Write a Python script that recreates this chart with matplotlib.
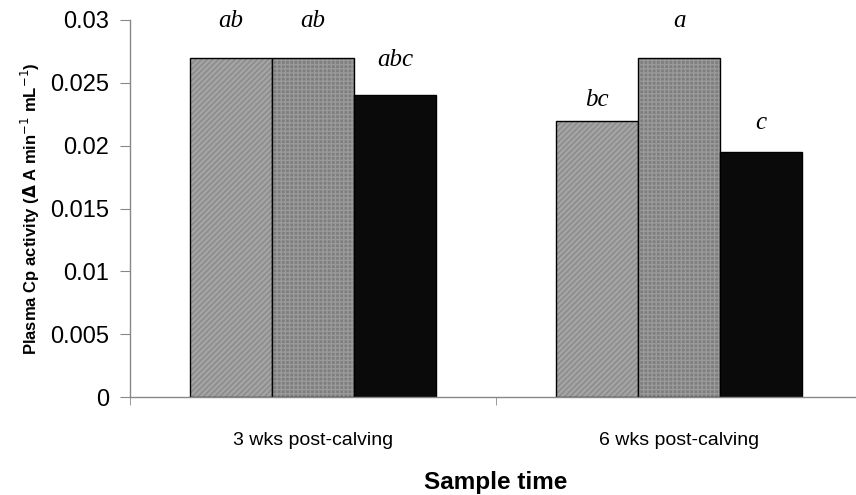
import numpy as np
import matplotlib
matplotlib.use("Agg")
import matplotlib.pyplot as plt

# data
categories = ["3 wks post-calving", "6 wks post-calving"]
series1 = [0.027, 0.022]
series2 = [0.027, 0.027]
series3 = [0.024, 0.0195]
letters = [["ab", "bc"], ["ab", "a"], ["abc", "c"]]
letter_y = [[0.0299, 0.0236], [0.0299, 0.0299], [0.0268, 0.0218]]

faces = ["#a4a4a4", "#7e7e7e", "#0a0a0a"]
hatches = ["//////", "++++", None]
hatch_cols = ["#8a8a8a", "#9a9a9a", "#0a0a0a"]

plt.rcParams["font.family"] = ["Liberation Sans", "DejaVu Sans"]

fig = plt.figure(figsize=(8.56, 4.95), dpi=100)
ax = fig.add_axes([130 / 856, 1 - 397 / 495, 732 / 856, 377 / 495])

x = np.arange(len(categories))
w = 0.224
for i, vals in enumerate([series1, series2, series3]):
    pos = x + (i - 1) * w
    # hatch layer then outline layer
    ax.bar(pos, vals, w, color=faces[i], hatch=hatches[i],
           edgecolor=hatch_cols[i], linewidth=0)
    ax.bar(pos, vals, w, fill=False, edgecolor="black", linewidth=1.0)
    for p, lab, ly in zip(pos, letters[i], letter_y[i]):
        ax.text(p, ly, lab, ha="center", va="center", fontsize=18,
                family="Liberation Serif", style="italic", clip_on=False)

ax.set_xlim(-0.5, len(categories) - 0.5)
ax.set_ylim(0, 0.03)
ax.set_yticks(np.arange(0, 0.0301, 0.005))
ax.set_yticklabels(["0", "0.005", "0.01", "0.015", "0.02", "0.025", "0.03"])
ax.set_xticks(x)
ax.set_xticklabels(categories)
ax.set_xticks(np.arange(-0.5, len(categories)), minor=True)
ax.tick_params(axis="x", which="major", length=0, pad=25, labelsize=14)
ax.tick_params(axis="x", which="minor", length=6, color="#888888")
ax.tick_params(axis="y", length=7, color="#888888", labelsize=17, pad=8)

for s in ["top", "right"]:
    ax.spines[s].set_visible(False)
for s in ["left", "bottom"]:
    ax.spines[s].set_color("#888888")
    ax.spines[s].set_linewidth(1.0)

ax.set_ylabel(r"Plasma Cp activity ($\mathbf{\Delta}$ A min$^{-1}$ mL$^{-1}$)",
              fontsize=12, fontweight="bold", labelpad=6)
fig.text(496 / 856, 1 - 482 / 495, "Sample time", ha="center", va="center",
         fontsize=17.5, fontweight="bold")

fig.savefig("out.png", dpi=100)
